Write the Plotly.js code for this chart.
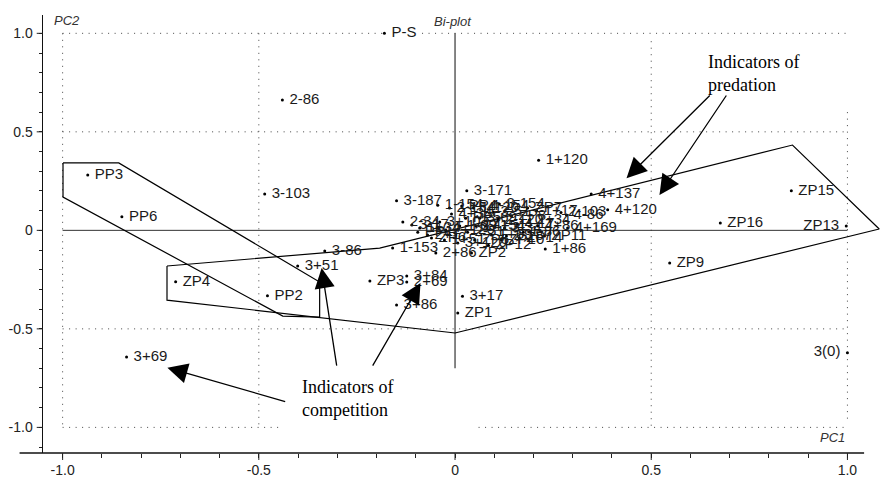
<!DOCTYPE html>
<html>
<head>
<meta charset="utf-8">
<script src="https://cdn.plot.ly/plotly-3.0.1.min.js"></script>
<style>html,body{margin:0;padding:0;background:#fff;}#chart{width:880px;height:480px;}</style>
</head>
<body>
<div id="chart"></div>
<script>
// Labelled points, label on the right of the dot
var ptLabels = ['P-S','2-86','1+120','3-171','3-187','3-103','PP3','PP6','3-86','3+51','ZP4','PP2','ZP3','3+84','2+69','3+86','3+17','ZP1','1+86','4+137','4+120','ZP15','ZP16','ZP9','3+69',
  '1-154','2-34','1-153','2+86','ZP2','3-154','ZP11','4+169','2-187','4-86','1+17','2-103',
  '1+34','2+17','1+51','3+103','4+34','1-69','2-51','ZP5','3-69','4+51','1+69','2-120','3-34','ZP8','4-17','1-86','2+34','3+120','ZP12','PP4','1-120','4-154','2-154','ZP6','PP1','3-17','ZP10','ZP14','4+86','PP5','2+120','3-51','1+154','ZP7'];
var ptX = [-0.180,-0.440,0.213,0.030,-0.149,-0.485,-0.936,-0.849,-0.332,-0.401,-0.712,-0.478,-0.217,-0.123,-0.123,-0.149,0.019,0.007,0.230,0.347,0.389,0.857,0.676,0.547,-0.837,
  -0.044,-0.133,-0.159,-0.049,0.042,0.113,0.228,0.287,0.131,0.284,0.208,0.270,
  -0.090,-0.070,-0.027,-0.039,-0.009,0.012,0.032,0.050,0.063,0.078,0.093,0.109,0.126,0.144,0.159,0.174,0.190,0.007,0.085,0.017,0.047,0.073,-0.014,-0.060,-0.095,-0.110,0.118,0.164,0.211,0.027,-0.024,0.098,0.053,0.185];
var ptY = [1.000,0.661,0.356,0.201,0.150,0.185,0.281,0.069,-0.105,-0.181,-0.261,-0.332,-0.257,-0.232,-0.262,-0.379,-0.334,-0.420,-0.095,0.184,0.104,0.201,0.037,-0.166,-0.643,
  0.128,0.042,-0.090,-0.115,-0.115,0.134,-0.029,0.012,-0.029,0.078,0.098,0.090,
  0.012,-0.024,-0.049,0.042,0.083,0.022,-0.009,-0.049,0.062,0.022,-0.024,0.052,0.012,0.073,0.032,-0.009,0.052,-0.064,-0.075,0.123,0.113,0.123,0.113,-0.039,-0.009,0.027,-0.049,-0.039,0.022,0.062,0.002,0.093,0.022,0.113];

// Labelled points, label on the left of the dot
var ptLabelsL = ['ZP13','3(0)'];
var ptXL = [0.997,1.000];
var ptYL = [0.022,-0.621];

// Outline of the competition group (PP)
var polyPPx = [-0.999,-0.857,-0.345,-0.345,-0.439,-0.999,-0.999];
var polyPPy = [0.342,0.342,-0.262,-0.440,-0.435,0.169,0.342];

// Outline of the predation group (ZP)
var polyZPx = [-0.734,-0.192,0.860,1.081,0.000,-0.734,-0.734];
var polyZPy = [-0.181,-0.090,0.433,0.007,-0.521,-0.354,-0.181];

// Axis ticks: labelled major ticks and unlabelled 0.1 steps
var majorVals = [-1,-0.5,0,0.5,1];
var majorText = ['-1.0','-0.5','0','0.5','1.0'];
var allVals = [], allText = [];
for (var i = -11; i <= 11; i++) {
  allVals.push(i / 10);
  var k = majorVals.indexOf(i / 10);
  allText.push(k >= 0 ? majorText[k] : '');
}

var labFont = {family:'Liberation Sans, Arial, sans-serif', size:15, color:'#1a1a1a'};

var traces = [
  {type:'scatter', mode:'lines', x:polyPPx, y:polyPPy, line:{color:'#000', width:1.2}, hoverinfo:'skip', cliponaxis:false},
  {type:'scatter', mode:'lines', x:polyZPx, y:polyZPy, line:{color:'#000', width:1.2}, hoverinfo:'skip', cliponaxis:false},
  {type:'scatter', mode:'markers+text', x:ptX, y:ptY, text:ptLabels, texttemplate:'\u00a0%{text}',
   textposition:'middle right', textfont:labFont, marker:{size:3, color:'#000'}, cliponaxis:false},
  {type:'scatter', mode:'markers+text', x:ptXL, y:ptYL, text:ptLabelsL, texttemplate:'%{text}\u00a0',
   textposition:'middle left', textfont:labFont, marker:{size:3, color:'#000'}, cliponaxis:false}
];

var dotLine = {color:'#444', width:1, dash:'1px,5.5px'};
function seg(x0,y0,x1,y1,line){return {type:'line', xref:'x', yref:'y', x0:x0, y0:y0, x1:x1, y1:y1, line:line, layer:'below'};}
var shapes = [
  // dotted reference grid
  seg(-1,1,-0.184,1,dotLine), seg(-0.084,1,1,1,dotLine),
  seg(-1,0.5,1,0.5,dotLine), seg(-1,-0.5,1,-0.5,dotLine),
  seg(-1,-1,-0.438,-1,dotLine), seg(0.06,-1,1,-1,dotLine),
  seg(-1,1,-1,-1,dotLine), seg(-0.5,1,-0.5,-1,dotLine),
  seg(0.5,0.96,0.5,-1,dotLine), seg(1,0.6,1,-0.96,dotLine),
  // solid origin lines
  seg(-1,0,1,0,{color:'#333', width:1}),
  seg(0,1,0,-0.70,{color:'#333', width:1.2}),
  // bottom axis line
  {type:'line', xref:'paper', yref:'paper', x0:-0.028, y0:0, x1:0.981, y1:0, line:{color:'#111', width:1.5}}
];
// longer ticks at the labelled positions
majorVals.forEach(function(v){
  shapes.push({type:'line', xref:'x', yref:'paper', x0:v, x1:v, y0:0, y1:-0.016, line:{color:'#222', width:1}});
  shapes.push({type:'line', xref:'paper', yref:'y', x0:0, x1:-0.0075, y0:v, y1:v, line:{color:'#222', width:1}});
});

var serif = {family:'Liberation Serif, Times New Roman, serif', size:18, color:'#000'};
var ital = {family:'Liberation Sans, Arial, sans-serif', size:13, color:'#333', style:'italic'};
function arrow(x,y,ax,ay){return {x:x, y:y, ax:ax, ay:ay, xref:'x', yref:'y', axref:'x', ayref:'y', text:'', showarrow:true,
  arrowhead:2, arrowsize:3.1, arrowwidth:1.3, arrowcolor:'#000', standoff:0};}
var annotations = [
  {x:-1.027, y:1.067, xref:'x', yref:'y', text:'PC2', showarrow:false, xanchor:'left', yanchor:'middle', font:ital},
  {x:1.0, y:-1.049, xref:'x', yref:'y', text:'PC1', showarrow:false, xanchor:'right', yanchor:'middle', font:ital},
  {x:-0.006, y:1.062, xref:'x', yref:'y', text:'Bi-plot', showarrow:false, xanchor:'center', yanchor:'middle', font:ital},
  {x:0.640, y:0.798, xref:'x', yref:'y', text:'Indicators of<br>predation', showarrow:false, xanchor:'left', yanchor:'middle', align:'left', font:serif},
  {x:-0.394, y:-0.851, xref:'x', yref:'y', text:'Indicators of<br>competition', showarrow:false, xanchor:'left', yanchor:'middle', align:'left', font:serif},
  arrow(0.437,0.265,0.653,0.692),
  arrow(0.521,0.179,0.694,0.692),
  arrow(-0.340,-0.191,-0.301,-0.694),
  arrow(-0.088,-0.267,-0.212,-0.694),
  arrow(-0.733,-0.697,-0.429,-0.871)
];

var tickFont = {family:'Liberation Sans, Arial, sans-serif', size:14, color:'#222'};
var layout = {
  width:880, height:480,
  margin:{l:43, r:0, t:15, b:27, pad:0},
  paper_bgcolor:'#fff', plot_bgcolor:'#fff',
  showlegend:false,
  xaxis:{range:[-1.050,1.083], showgrid:false, zeroline:false, showline:false,
    tickmode:'array', tickvals:allVals, ticktext:allText,
    ticks:'outside', ticklen:4, tickwidth:1, tickcolor:'#222', tickfont:tickFont},
  yaxis:{range:[-1.130,1.093], showgrid:false, zeroline:false, showline:true, linecolor:'#111', linewidth:1.5,
    tickmode:'array', tickvals:allVals, ticktext:allText,
    ticks:'outside', ticklen:3, tickwidth:1, tickcolor:'#222', tickfont:tickFont, ticklabelstandoff:3},
  shapes:shapes,
  annotations:annotations
};

Plotly.newPlot('chart', traces, layout, {staticPlot:true, displayModeBar:false});
</script>
</body>
</html>
